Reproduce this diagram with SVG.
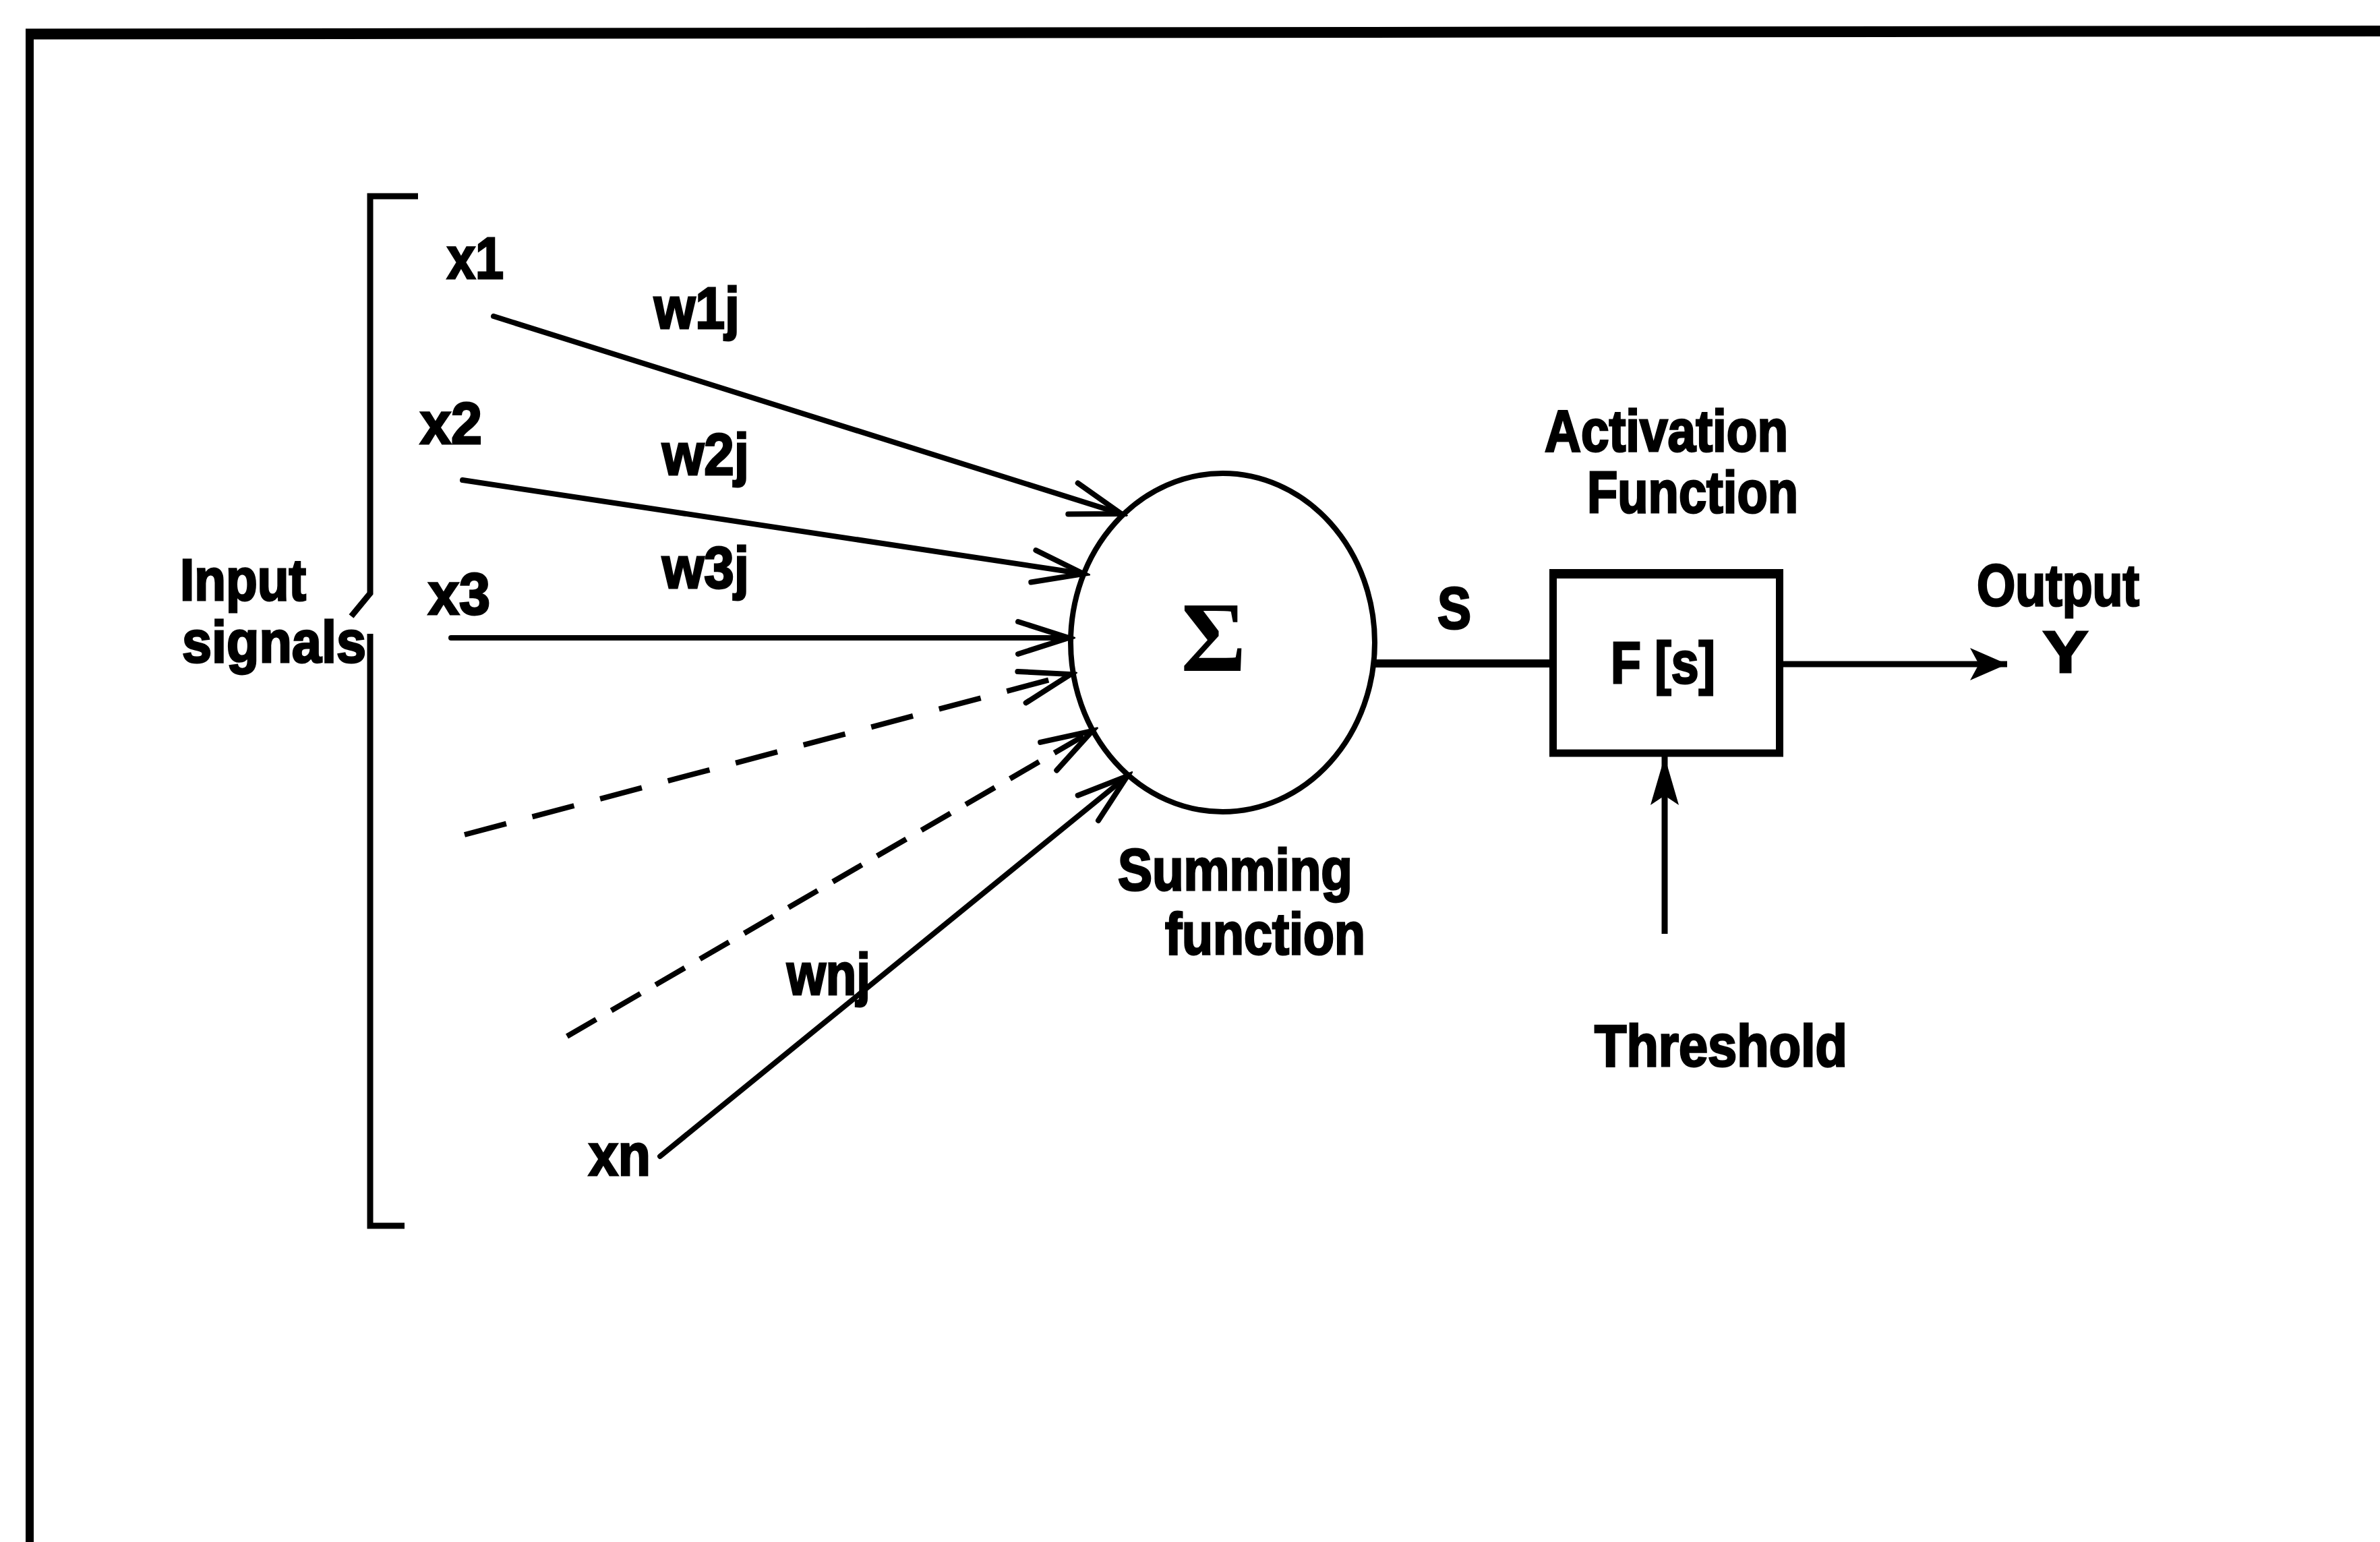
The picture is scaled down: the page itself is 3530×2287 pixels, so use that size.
<svg xmlns="http://www.w3.org/2000/svg" width="3530" height="2287" viewBox="0 0 3530 2287">
  <style>
    .ln { stroke: #000; stroke-width: 8; fill: none; stroke-linecap: round; }
    .dash1 { stroke-dasharray: 64 40; stroke-linecap: butt; }
    .dash2 { stroke-dasharray: 50 26; stroke-linecap: butt; }
    .lbl { font-family: "Liberation Sans", Arial, sans-serif; font-weight: bold; font-size: 88px; fill: #000; stroke: #000; stroke-width: 3; }
    .sig { font-family: "Liberation Serif", "Times New Roman", serif; font-weight: bold; font-size: 148px; fill: #000; }
  </style>
  <defs>
    <marker id="openV" markerUnits="userSpaceOnUse" markerWidth="100" markerHeight="80" viewBox="-90 -40 100 80" refX="0" refY="0" orient="auto">
      <path d="M-75,-24 L0,0 L-75,24" fill="none" stroke="#000" stroke-width="8" stroke-linecap="round" stroke-linejoin="miter"/>
    </marker>
    <marker id="fillOut" markerUnits="userSpaceOnUse" markerWidth="80" markerHeight="70" viewBox="-70 -35 80 70" refX="0" refY="0" orient="auto">
      <path d="M0,0 L-55,-24 L-42,0 L-55,24 Z" fill="#000"/>
    </marker>
    <marker id="fillTh" markerUnits="userSpaceOnUse" markerWidth="90" markerHeight="60" viewBox="-80 -30 90 60" refX="0" refY="0" orient="auto">
      <path d="M0,0 L-72,-21 L-58,0 L-72,21 Z" fill="#000"/>
    </marker>
  </defs>

  <rect x="0" y="0" width="3530" height="2287" fill="#fff"/>

  <!-- frame (top and left edges) -->
  <g id="frame">
    <line x1="38" y1="50.5" x2="3530" y2="46" stroke="#000" stroke-width="16"/>
    <line x1="44" y1="43" x2="44" y2="2287" stroke="#000" stroke-width="12"/>
  </g>

  <!-- input bracket -->
  <g id="bracket">
    <path d="M620,291 H549 V880 L521,914 M549,940 V1818 H600" fill="none" stroke="#000" stroke-width="9"/>
    <text class="lbl" x="267" y="890" textLength="187" lengthAdjust="spacingAndGlyphs">Input</text>
    <text class="lbl" x="270" y="982" textLength="273" lengthAdjust="spacingAndGlyphs">signals</text>
  </g>

  <!-- input labels -->
  <g id="inputs">
    <text class="lbl" x="663" y="413" textLength="84" lengthAdjust="spacingAndGlyphs">x1</text>
    <text class="lbl" x="623" y="658" textLength="92" lengthAdjust="spacingAndGlyphs">x2</text>
    <text class="lbl" x="635" y="911" textLength="92" lengthAdjust="spacingAndGlyphs">x3</text>
    <text class="lbl" x="873" y="1743" textLength="92" lengthAdjust="spacingAndGlyphs">xn</text>
  </g>

  <!-- weight labels -->
  <g id="weights">
    <text class="lbl" x="970" y="487" textLength="127" lengthAdjust="spacingAndGlyphs">w1j</text>
    <text class="lbl" x="982" y="704" textLength="129" lengthAdjust="spacingAndGlyphs">w2j</text>
    <text class="lbl" x="982" y="872" textLength="129" lengthAdjust="spacingAndGlyphs">w3j</text>
    <text class="lbl" x="1167" y="1475" textLength="124" lengthAdjust="spacingAndGlyphs">wnj</text>
  </g>

  <!-- summing node -->
  <g id="summing">
    <ellipse cx="1813.5" cy="953" rx="225.5" ry="251" fill="none" stroke="#000" stroke-width="8"/>
    <text class="sig" x="1800" y="995" text-anchor="middle">Σ</text>
    <text class="lbl" x="1658" y="1320" textLength="348" lengthAdjust="spacingAndGlyphs">Summing</text>
    <text class="lbl" x="1728" y="1415" textLength="297" lengthAdjust="spacingAndGlyphs">function</text>
  </g>

  <!-- activation node -->
  <g id="activation">
    <rect x="2303.5" y="850" width="336" height="267" fill="none" stroke="#000" stroke-width="11"/>
    <line x1="2298" y1="851" x2="2645" y2="851" stroke="#000" stroke-width="14"/>
    <text class="lbl" x="2389" y="1013" textLength="155" lengthAdjust="spacingAndGlyphs">F [s]</text>
    <text class="lbl" x="2291" y="669" textLength="361" lengthAdjust="spacingAndGlyphs">Activation</text>
    <text class="lbl" x="2354" y="760" textLength="313" lengthAdjust="spacingAndGlyphs">Function</text>
  </g>

  <g id="labels">
    <text class="lbl" x="2132" y="932" textLength="50" lengthAdjust="spacingAndGlyphs">S</text>
    <text class="lbl" x="2932" y="898" textLength="241" lengthAdjust="spacingAndGlyphs">Output</text>
    <text class="lbl" x="3030" y="997" textLength="67" lengthAdjust="spacingAndGlyphs">Y</text>
    <text class="lbl" x="2365" y="1581" textLength="375" lengthAdjust="spacingAndGlyphs">Threshold</text>
  </g>

  <!-- connectors -->
  <g id="connectors">
    <line class="ln" x1="732" y1="469" x2="1663" y2="762" marker-end="url(#openV)"/>
    <line class="ln" x1="686" y1="712" x2="1607" y2="851" marker-end="url(#openV)"/>
    <line class="ln" x1="669" y1="946" x2="1585" y2="946" marker-end="url(#openV)"/>
    <line class="ln dash1" x1="689" y1="1238" x2="1588" y2="1000" marker-end="url(#openV)"/>
    <line class="ln dash2" x1="841" y1="1537" x2="1620" y2="1084" marker-end="url(#openV)"/>
    <line class="ln" x1="979" y1="1715" x2="1672" y2="1151" marker-end="url(#openV)"/>
    <line x1="2039" y1="984" x2="2300" y2="984" stroke="#000" stroke-width="12"/>
    <line x1="2645" y1="985" x2="2977" y2="985" stroke="#000" stroke-width="9" marker-end="url(#fillOut)"/>
    <line x1="2469" y1="1385" x2="2469" y2="1122" stroke="#000" stroke-width="9" marker-end="url(#fillTh)"/>
  </g>
</svg>
